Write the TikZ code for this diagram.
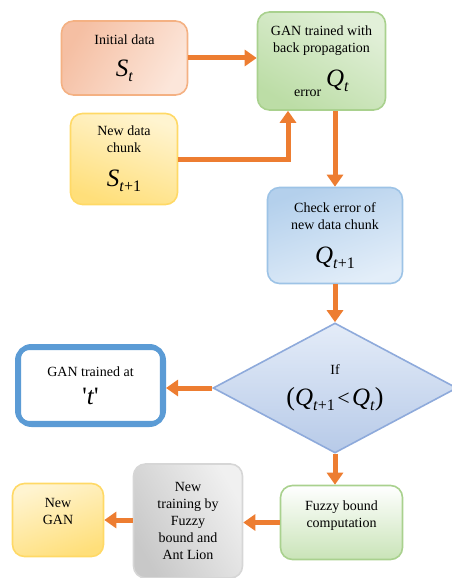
\documentclass[tikz,border=0pt]{standalone}
\usepackage{fontspec}
\setmainfont{Liberation Serif}
\usetikzlibrary{shapes.geometric,arrows.meta,calc,positioning}
\definecolor{arrorange}{HTML}{ED7D31}
\definecolor{peachdark}{HTML}{F5BFA3}
\definecolor{peachlight}{HTML}{FCE6DA}
\definecolor{peachline}{HTML}{F4B183}
\definecolor{greendark}{HTML}{BCDDA6}
\definecolor{greenlight}{HTML}{E2F0D9}
\definecolor{greenline}{HTML}{A9D18E}
\definecolor{yellowdark}{HTML}{FFDF7A}
\definecolor{yellowlight}{HTML}{FFF4D0}
\definecolor{yellowline}{HTML}{FFD966}
\definecolor{bluedark}{HTML}{B4D0EC}
\definecolor{bluelight}{HTML}{E3EEF9}
\definecolor{blueline}{HTML}{9DC3E6}
\definecolor{diamtop}{HTML}{E4ECF8}
\definecolor{diambot}{HTML}{B7CAE8}
\definecolor{diamline}{HTML}{8EAADB}
\definecolor{boldblue}{HTML}{5B9BD5}
\definecolor{graydark}{HTML}{C8C8C8}
\definecolor{graylight}{HTML}{F0F0F0}
\definecolor{grayline}{HTML}{D6D6D6}
% Italic quantity with subscript, set in the text font
\newcommand{\symq}[2]{{\fontsize{25}{28}\selectfont\textit{#1}\raisebox{-0.45ex}{\fontsize{16}{16}\selectfont #2}}}

\begin{document}
\begin{tikzpicture}[x=1pt,y=-1pt,
    box/.style={rounded corners=12pt, line width=1.6pt, align=center, inner sep=0pt,
      font=\fontsize{14}{17}\selectfont},
    flow/.style={-{Triangle[length=12pt,width=16pt]}, line width=5pt, arrorange}]
  % Page
  \useasboundingbox (0,0) rectangle (452,578);
  % Boxes of the upper part
  \node[box, draw=peachline, top color=peachdark, bottom color=peachlight, shading angle=60,
    minimum width=126pt, minimum height=74pt] (init) at (124.5,58)
    {Initial data\\[15pt]\symq{S}{\textit{t}}};
  \node[box, draw=greenline, top color=greendark, bottom color=greenlight, shading angle=150,
    minimum width=128pt, minimum height=98pt] (gan) at (321.5,61)
    {GAN trained with\\back propagation\\[14pt]\raisebox{-1.5ex}{error}\,\,\symq{Q}{\textit{t}}};
  \node[box, draw=yellowline, top color=yellowdark, bottom color=yellowlight, shading angle=160,
    minimum width=107pt, minimum height=91pt] (chunk) at (124,159)
    {New data\\chunk\\[17pt]\symq{S}{\textit{t}+1}};
  \node[box, draw=blueline, top color=bluedark, bottom color=bluelight, shading angle=20,
    minimum width=135pt, minimum height=96pt] (check) at (335,235.5)
    {Check error of\\new data chunk\\[17pt]\symq{Q}{\textit{t}+1}};
  % Decision
  \node[diamond, draw=diamline, line width=1.6pt, top color=diamtop, bottom color=diambot,
    minimum width=244pt, minimum height=130pt, aspect=1.88, inner sep=0pt, align=center,
    font=\fontsize{14}{17}\selectfont] (cond) at (335,388)
    {If\\[12pt]{\fontsize{26}{26}\selectfont(}\symq{Q}{\textit{t}+1}\,{\fontsize{22}{22}\selectfont<}\,\symq{Q}{\textit{t}}{\fontsize{26}{26}\selectfont)}};
  \node[box, draw=boldblue, line width=5pt, fill=white, rounded corners=14pt,
    minimum width=146pt, minimum height=78pt] (trained) at (90.5,385.5)
    {GAN trained at\\[11pt]{\fontsize{25}{28}\selectfont\textquotesingle\textit{t}\textquotesingle}};
  \draw[boldblue, line width=1.3pt, rounded corners=8pt]
    ($(trained.north west)+(5.5,5.5)$) rectangle ($(trained.south east)+(-5.5,-5.5)$);
  % Boxes of the lower part
  \node[box, draw=greenline, top color=white, bottom color=greendark!80,
    minimum width=122pt, minimum height=74pt] (fuzzy) at (341.5,522.5)
    {Fuzzy bound\\computation\\\mbox{}};
  \node[box, draw=grayline, top color=graydark, bottom color=graylight, shading angle=120,
    minimum width=109pt, minimum height=114pt] (newtrain) at (188,521)
    {New\\training by\\Fuzzy\\bound and\\Ant Lion};
  \node[box, draw=yellowline, top color=yellowdark, bottom color=yellowlight, shading angle=200,
    minimum width=91pt, minimum height=73pt] (newgan) at (58,520)
    {New\\GAN\\\mbox{}};
  % Arrows
  \draw[flow] (init.east) -- (init.east -| gan.west);
  \draw[flow] (chunk.east) -| ([xshift=-33.5pt]gan.south);
  \draw[flow] (check.north |- gan.south) -- (check.north);
  \draw[flow] (check.south) -- (cond.north);
  \draw[flow] (cond.west) -- (cond.west -| trained.east);
  \draw[flow] (cond.south) -- (cond.south |- fuzzy.north);
  \draw[flow] (fuzzy.west) -- (fuzzy.west -| newtrain.east);
  \draw[flow] (newtrain.west |- newgan.east) -- (newgan.east);
\end{tikzpicture}
\end{document}
